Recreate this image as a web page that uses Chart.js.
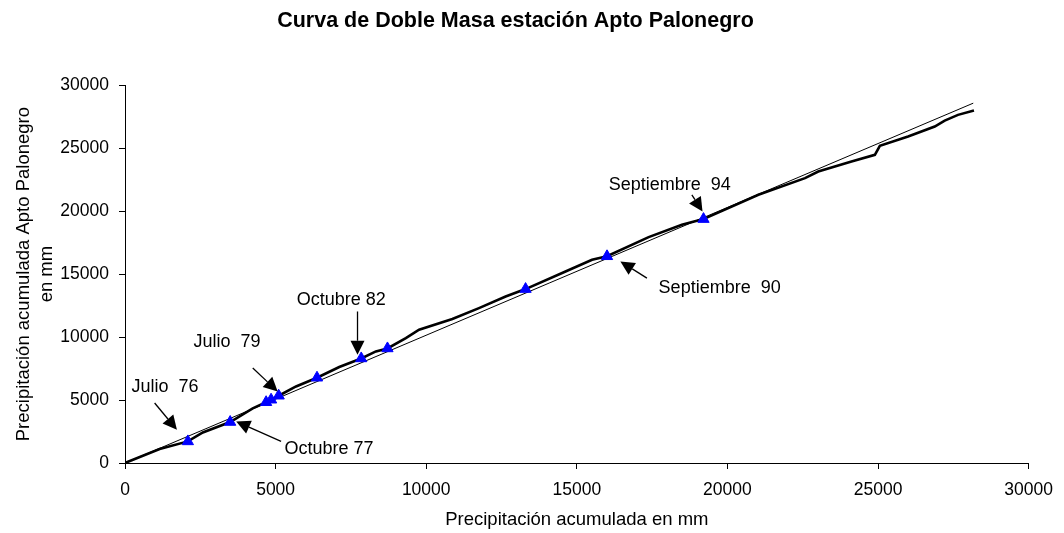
<!DOCTYPE html>
<html>
<head>
<meta charset="utf-8">
<script src="https://cdn.jsdelivr.net/npm/chart.js@4.4.1/dist/chart.umd.min.js"></script>
<style>
  html, body { margin: 0; padding: 0; background: #fff; }
  #wrap { width: 1064px; height: 533px; position: relative; }
</style>
</head>
<body>
<div id="wrap"><canvas id="c" width="1064" height="533"></canvas></div>
<script>
// ---- Data ----
const chartTitle = 'Curva de Doble Masa estación Apto Palonegro';
const xAxisTitle = 'Precipitación acumulada en mm';
const yAxisTitle = ['Precipitación acumulada Apto Palonegro', 'en mm'];

const xTickValues = [0, 5000, 10000, 15000, 20000, 25000, 30000];
const yTickValues = [0, 5000, 10000, 15000, 20000, 25000, 30000];

// Double-mass curve (cumulative station vs cumulative reference)
const curveX = [0, 1150, 2087, 2584, 3492, 4241, 4685, 4850, 5102, 5678, 6374, 7113, 7842, 8329, 8713, 9323, 9763, 10867, 11751, 12636, 13298, 14624, 15505, 16002, 17384, 18487, 19205, 21027, 22575, 23015, 24119, 24894, 25060, 25997, 26882, 27213, 27654, 28184];
const curveY = [0, 1111, 1714, 2429, 3254, 4334, 4826, 5024, 5342, 6080, 6770, 7619, 8302, 8858, 9096, 9921, 10580, 11429, 12302, 13223, 13810, 15207, 16136, 16414, 17937, 18914, 19366, 21295, 22620, 23144, 23938, 24470, 25184, 25922, 26716, 27192, 27645, 27986];

// Straight reference line
const fitX = [0, 28160];
const fitY = [0, 28573];

// Marked break points (blue triangles)
const markX = [2087, 3492, 4685, 4850, 5102, 6374, 7842, 8713, 13298, 16002, 19205];
const markY = [1714, 3254, 4826, 5024, 5342, 6770, 8302, 9096, 13810, 16414, 19366];

// Callout labels
const annLabels = ['Julio  76', 'Octubre 77', 'Julio  79', 'Octubre 82', 'Septiembre  94', 'Septiembre  90'];
const annLabelX = [212, 5291, 2276, 5698, 16058, 17715];
const annLabelY = [6016, 1135, 9628, 12961, 22089, 13914];
const annFromX = [984, 5182, 4241, 7719, 18818, 17327];
const annFromY = [4762, 1714, 7540, 12032, 21295, 14684];
const annToX = [1723, 3691, 5069, 7719, 19172, 16446];
const annToY = [2643, 3302, 5683, 8596, 19970, 16001];

// ---- Chart ----
const FONT = '"Liberation Sans", Arial, Helvetica, sans-serif';
Chart.defaults.color = '#000';
Chart.defaults.font.family = FONT;

const toPts = (xs, ys) => xs.map((x, i) => ({x: x, y: ys[i]}));

const calloutPlugin = {
  id: 'callouts',
  afterDatasetsDraw(chart) {
    const ctx = chart.ctx;
    const xs = chart.scales.x, ys = chart.scales.y;
    ctx.save();
    ctx.fillStyle = '#000';
    ctx.strokeStyle = '#000';
    ctx.font = '18px ' + FONT;
    ctx.textAlign = 'left';
    ctx.textBaseline = 'middle';
    annLabels.forEach((t, i) => {
      ctx.fillText(t, xs.getPixelForValue(annLabelX[i]), ys.getPixelForValue(annLabelY[i]));
      const x0 = xs.getPixelForValue(annFromX[i]), y0 = ys.getPixelForValue(annFromY[i]);
      const x1 = xs.getPixelForValue(annToX[i]), y1 = ys.getPixelForValue(annToY[i]);
      const ang = Math.atan2(y1 - y0, x1 - x0);
      const headLen = 14, headHalf = 7;
      const bx = x1 - Math.cos(ang) * headLen, by = y1 - Math.sin(ang) * headLen;
      ctx.lineWidth = 1.3;
      ctx.beginPath();
      ctx.moveTo(x0, y0);
      ctx.lineTo(bx, by);
      ctx.stroke();
      ctx.beginPath();
      ctx.moveTo(x1, y1);
      ctx.lineTo(bx + Math.sin(ang) * headHalf, by - Math.cos(ang) * headHalf);
      ctx.lineTo(bx - Math.sin(ang) * headHalf, by + Math.cos(ang) * headHalf);
      ctx.closePath();
      ctx.fill();
    });
    ctx.restore();
  }
};

const axisCommon = (ticksArr) => ({
  type: 'linear',
  min: 0,
  max: 30000,
  afterBuildTicks: (scale) => { scale.ticks = ticksArr.map(v => ({value: v})); },
  border: {display: true, color: '#000', width: 1},
  grid: {display: true, drawOnChartArea: false, drawTicks: true, tickLength: 6, color: '#000', lineWidth: 1},
});

new Chart(document.getElementById('c'), {
  type: 'scatter',
  data: {
    datasets: [
      {
        label: 'marks',
        data: toPts(markX, markY),
        pointStyle: 'triangle',
        pointRadius: 6.5,
        backgroundColor: '#0000ff',
        borderColor: '#0000ff',
        borderWidth: 1,
        showLine: false,
        order: 0
      },
      {
        label: 'curve',
        data: toPts(curveX, curveY),
        showLine: true,
        borderColor: '#000',
        borderWidth: 2.6,
        pointRadius: 0,
        tension: 0,
        order: 1
      },
      {
        label: 'line',
        data: toPts(fitX, fitY),
        showLine: true,
        borderColor: '#000',
        borderWidth: 1,
        pointRadius: 0,
        order: 2
      }
    ]
  },
  options: {
    responsive: false,
    animation: false,
    events: [],
    layout: {padding: {left: 0, right: 33, top: 0, bottom: 0}},
    plugins: {
      legend: {display: false},
      tooltip: {enabled: false},
      title: {
        display: true,
        text: chartTitle,
        color: '#000',
        font: {family: FONT, size: 21.5, weight: 'bold', lineHeight: 1.2},
        padding: {top: 8, bottom: 51.4}
      }
    },
    scales: {
      x: Object.assign(axisCommon(xTickValues), {
        position: 'bottom',
        afterFit: (s) => { s.height = 70; },
        ticks: {padding: 11, font: {family: FONT, size: 17.5}, color: '#000', maxRotation: 0, autoSkip: false, callback: (v) => String(v)},
        title: {display: true, text: xAxisTitle, color: '#000', font: {family: FONT, size: 18.5, lineHeight: 1.2}, padding: {top: 0, bottom: 2}}
      }),
      y: Object.assign(axisCommon(yTickValues), {
        position: 'left',
        afterFit: (s) => { s.width = 125; },
        ticks: {padding: 10, font: {family: FONT, size: 17.5}, color: '#000', autoSkip: false, callback: (v) => String(v)},
        title: {display: true, text: yAxisTitle, color: '#000', font: {family: FONT, size: 18.5, lineHeight: 1.25}, padding: {top: 12, bottom: 0}}
      })
    }
  },
  plugins: [calloutPlugin]
});
</script>
</body>
</html>
